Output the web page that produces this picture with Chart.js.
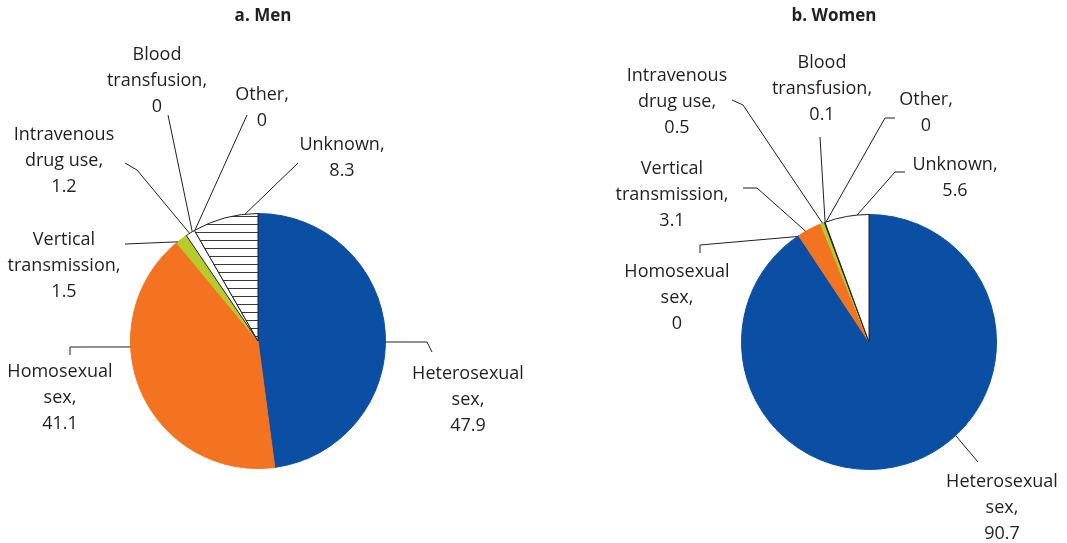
<!DOCTYPE html>
<html>
<head>
<meta charset="utf-8">
<script src="https://cdn.jsdelivr.net/npm/chart.js@4.4.0/dist/chart.umd.min.js"></script>
<style>
  html, body { margin: 0; padding: 0; background: #fff; }
  #wrap { position: relative; width: 1067px; height: 543px; }
  canvas { position: absolute; left: 0; top: 0; }
</style>
</head>
<body>
<div id="wrap">
  <canvas id="men" width="1067" height="543"></canvas>
  <canvas id="women" width="1067" height="543"></canvas>
</div>
<script>
// Data
const categories = ['Heterosexual sex', 'Homosexual sex', 'Vertical transmission',
  'Intravenous drug use', 'Blood transfusion', 'Other', 'Unknown'];
const labelLines = [
  ['Heterosexual', 'sex,'],
  ['Homosexual', 'sex,'],
  ['Vertical', 'transmission,'],
  ['Intravenous', 'drug use,'],
  ['Blood', 'transfusion,'],
  ['Other,'],
  ['Unknown,']
];
const menValues = [47.9, 41.1, 1.5, 1.2, 0, 0, 8.3];
const womenValues = [90.7, 0, 3.1, 0.5, 0.1, 0, 5.6];

const BLUE = '#0a4fa3';
const ORANGE = '#f37321';
const GREEN = '#b7cb2b';
const INK = '#231f20';

// horizontal hatch for men's "Unknown"
function makeHatch() {
  const c = document.createElement('canvas');
  c.width = 8; c.height = 8;
  const g = c.getContext('2d');
  g.fillStyle = '#fff';
  g.fillRect(0, 0, 8, 8);
  g.fillStyle = '#3a3a3a';
  g.fillRect(0, 0, 8, 1);
  return g.createPattern(c, 'repeat');
}
const hatch = makeHatch();

// label text centre + leader line (last point gets snapped onto the pie edge)
const menLayout = [
  { x: 468, y: 374, line: [[432, 352], [427, 342], [386, 342]] },
  { x: 60, y: 372, line: [[70, 355], [70, 347], [130, 347]] },
  { x: 64, y: 240, line: [[125, 244], [178, 242]] },
  { x: 64, y: 135, line: [[125, 163], [137, 170], [190, 234]] },
  { x: 157, y: 55, line: [[168, 115], [193, 233]] },
  { x: 262, y: 95, line: [[247, 115], [196, 232]] },
  { x: 342, y: 145, line: [[298, 163], [245, 214]] }
];
const womenLayout = [
  { x: 1002, y: 482, line: [[978, 462], [957, 437]] },
  { x: 677, y: 272, line: [[700, 253], [700, 245], [797, 236]] },
  { x: 672, y: 169, line: [[743, 188], [757, 188], [805, 230]] },
  { x: 677, y: 76, line: [[732, 100], [743, 105], [822, 222]] },
  { x: 822, y: 63, line: [[820, 137], [825, 222]] },
  { x: 926, y: 100, line: [[895, 118], [885, 118], [826, 222]] },
  { x: 955, y: 165, line: [[905, 172], [895, 172], [857, 214]] }
];

const FONT = '"Open Sans", "Noto Sans", sans-serif';

const leaderPlugin = {
  id: 'leaders',
  afterDraw(chart, args, opts) {
    const ctx = chart.ctx;
    const arc = chart.getDatasetMeta(0).data[0];
    const cx = arc.x, cy = arc.y, r = arc.outerRadius;
    const values = chart.data.datasets[0].data;
    ctx.save();
    // title
    ctx.fillStyle = INK;
    ctx.font = 'bold 17px ' + FONT;
    ctx.textAlign = 'center';
    ctx.textBaseline = 'middle';
    ctx.fillText(opts.title, opts.titleX, 16);

    ctx.strokeStyle = INK;
    ctx.lineWidth = 1;
    ctx.font = '18px ' + FONT;
    opts.layout.forEach((item, i) => {
      const pts = item.line.map(p => p.slice());
      const last = pts[pts.length - 1];
      const a = Math.atan2(last[1] - cy, last[0] - cx);
      last[0] = cx + r * Math.cos(a);
      last[1] = cy + r * Math.sin(a);
      ctx.beginPath();
      ctx.moveTo(pts[0][0], pts[0][1]);
      for (let k = 1; k < pts.length; k++) ctx.lineTo(pts[k][0], pts[k][1]);
      ctx.stroke();

      const lines = labelLines[i].concat([String(values[i])]);
      lines.forEach((t, j) => ctx.fillText(t, item.x, item.y + j * 26));
    });
    ctx.restore();
  }
};

function makePie(id, values, colors, widths, pad, title, titleX, layout) {
  return new Chart(document.getElementById(id), {
    type: 'pie',
    data: {
      labels: categories,
      datasets: [{
        data: values,
        backgroundColor: colors,
        borderColor: colors.map((c, i) => widths[i] ? INK : c),
        borderWidth: 1
      }]
    },
    options: {
      responsive: false,
      animation: false,
      devicePixelRatio: 1,
      layout: { padding: pad },
      plugins: {
        legend: { display: false },
        tooltip: { enabled: false },
        leaders: { title: title, titleX: titleX, layout: layout }
      }
    },
    plugins: [leaderPlugin]
  });
}

makePie('men', menValues,
  [BLUE, ORANGE, GREEN, '#fff', '#fff', '#fff', hatch],
  [0, 0, 0, 1, 1, 1, 1],
  { left: 130, right: 681, top: 213, bottom: 74 },
  'a. Men', 263, menLayout);

makePie('women', womenValues,
  [BLUE, BLUE, ORANGE, GREEN, '#fff', '#fff', '#fff'],
  [0, 0, 0, 0, 1, 1, 1],
  { left: 741, right: 70, top: 214, bottom: 73 },
  'b. Women', 834, womenLayout);
</script>
</body>
</html>
